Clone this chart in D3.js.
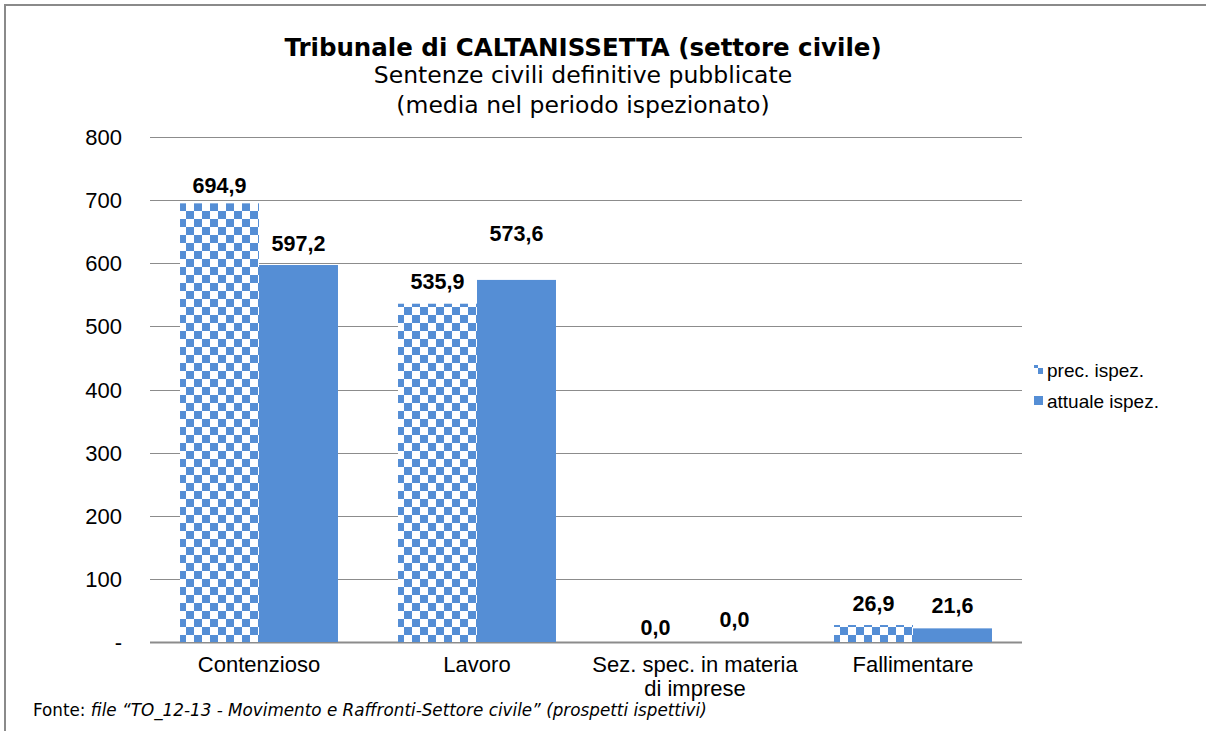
<!DOCTYPE html>
<html>
<head>
<meta charset="UTF-8">
<title>Tribunale di CALTANISSETTA</title>
<script src="https://cdnjs.cloudflare.com/ajax/libs/d3/7.8.5/d3.min.js"></script>
<style>
  body { margin: 0; background: #fff; }
  svg { display: block; }
  .tick-lab { font-family: "Liberation Sans", Arial, sans-serif; font-size: 22px; fill: #000; }
  .val { font-family: "Liberation Sans", Arial, sans-serif; font-size: 21.5px; font-weight: bold; fill: #000; }
  .ttl { font-family: "DejaVu Sans", Verdana, sans-serif; fill: #000; }
</style>
</head>
<body>
<div id="chart"></div>
<script>
// data
var categories = ["Contenzioso", "Lavoro", "Sez. spec. in materia\ndi imprese", "Fallimentare"];
var seriesNames = ["prec. ispez.", "attuale ispez."];
var precValues = [694.9, 535.9, 0.0, 26.9];
var attualeValues = [597.2, 573.6, 0.0, 21.6];
var yTicks = [0, 100, 200, 300, 400, 500, 600, 700, 800];
// label lift above bar top (px), the original has a few hand-moved labels
var labelLift = [[18, 22], [22, 47], [15, 23], [22, 23]];

var W = 1206, H = 731;
var blue = "#558ed5";
var grid = "#8c8c8c";

var svg = d3.select("#chart").append("svg")
    .attr("width", W).attr("height", H);

svg.append("rect").attr("width", W).attr("height", H).attr("fill", "#fff");

// checker pattern for the previous inspection
var pat = svg.append("defs").append("pattern")
    .attr("id", "checker")
    .attr("patternUnits", "userSpaceOnUse")
    .attr("x", 4).attr("y", 3)
    .attr("width", 16).attr("height", 16);
pat.append("rect").attr("width", 16).attr("height", 16).attr("fill", "#fff");
pat.append("rect").attr("x", 0).attr("y", 0).attr("width", 8).attr("height", 8).attr("fill", blue);
pat.append("rect").attr("x", 8).attr("y", 8).attr("width", 8).attr("height", 8).attr("fill", blue);

// outer frame (top + left only)
svg.append("path")
    .attr("d", "M5," + H + "V5H" + W)
    .attr("fill", "none")
    .attr("stroke", "#8a8a8a")
    .attr("stroke-width", 2);

var y = d3.scaleLinear().domain([0, 800]).range([642, 137]);
var x0 = d3.scaleBand().domain(categories).range([150, 1022]).padding(0);
var x1 = d3.scaleBand().domain(seriesNames).range([0, x0.bandwidth()])
    .paddingInner(0).paddingOuter(0.38);

// gridlines
svg.append("g").selectAll("line")
    .data(yTicks)
    .join("line")
    .attr("x1", 150).attr("x2", 1022)
    .attr("y1", function(d) { return Math.round(y(d)) + 0.5; })
    .attr("y2", function(d) { return Math.round(y(d)) + 0.5; })
    .attr("stroke", grid)
    .attr("stroke-width", function(d) { return d === 0 ? 2 : 1.2; });

// y tick labels
svg.append("g").selectAll("text")
    .data(yTicks)
    .join("text")
    .attr("class", "tick-lab")
    .attr("x", 122)
    .attr("y", function(d) { return y(d) + 8; })
    .attr("text-anchor", "end")
    .text(function(d) { return d === 0 ? "-" : d; });

// bars
var rows = categories.map(function(c, i) {
    return { cat: c, i: i, vals: [precValues[i], attualeValues[i]] };
});

var groups = svg.append("g").selectAll("g")
    .data(rows)
    .join("g")
    .attr("transform", function(d) { return "translate(" + x0(d.cat) + ",0)"; });

groups.selectAll("rect")
    .data(function(d) {
        return seriesNames.map(function(s, k) { return { s: s, v: d.vals[k], k: k, i: d.i }; });
    })
    .join("rect")
    .attr("x", function(d) { return x1(d.s); })
    .attr("width", x1.bandwidth())
    .attr("y", function(d) { return y(d.v); })
    .attr("height", function(d) { return y(0) - y(d.v); })
    .attr("fill", function(d) { return d.k === 0 ? "url(#checker)" : blue; });

var fmt = function(v) { return d3.format(".1f")(v).replace(".", ","); };

groups.selectAll("text.val")
    .data(function(d) {
        return seriesNames.map(function(s, k) { return { s: s, v: d.vals[k], k: k, i: d.i }; });
    })
    .join("text")
    .attr("class", "val")
    .attr("x", function(d) { return x1(d.s) + x1.bandwidth() / 2; })
    .attr("y", function(d) { return y(d.v) - labelLift[d.i][d.k] + 7.7; })
    .attr("text-anchor", "middle")
    .text(function(d) { return fmt(d.v); });

// category labels
svg.append("g").selectAll("text")
    .data(categories)
    .join("text")
    .attr("class", "tick-lab")
    .attr("text-anchor", "middle")
    .attr("x", function(d) { return x0(d) + x0.bandwidth() / 2; })
    .attr("y", 672)
    .each(function(d) {
        var t = d3.select(this);
        d.split("\n").forEach(function(line, j) {
            t.append("tspan")
                .attr("x", x0(d) + x0.bandwidth() / 2)
                .attr("dy", j === 0 ? 0 : 24)
                .text(line);
        });
    });

// legend
var legend = svg.append("g").selectAll("g")
    .data(seriesNames)
    .join("g")
    .attr("transform", function(d, i) { return "translate(1034," + (365 + i * 31) + ")"; });
legend.append("rect")
    .attr("width", 9).attr("height", 9)
    .attr("fill", function(d, i) { return i === 0 ? "url(#checker)" : blue; });
legend.append("text")
    .attr("x", 13).attr("y", 11.5)
    .style("font-family", "'Liberation Sans', Arial, sans-serif")
    .style("font-size", "19px")
    .text(function(d) { return d; });

// titles
svg.append("text").attr("class", "ttl")
    .attr("x", 583).attr("y", 56)
    .attr("text-anchor", "middle")
    .style("font-size", "24.5px").style("font-weight", "bold")
    .text("Tribunale di CALTANISSETTA (settore civile)");
svg.append("text").attr("class", "ttl")
    .attr("x", 583).attr("y", 83)
    .attr("text-anchor", "middle")
    .style("font-size", "23.5px")
    .text("Sentenze civili definitive pubblicate");
svg.append("text").attr("class", "ttl")
    .attr("x", 583).attr("y", 113)
    .attr("text-anchor", "middle")
    .style("font-size", "23.5px")
    .text("(media nel periodo ispezionato)");

// source note
var src = svg.append("text").attr("class", "ttl")
    .attr("x", 33).attr("y", 716)
    .style("font-size", "16.8px");
src.append("tspan").text("Fonte: ");
src.append("tspan").style("font-style", "italic")
    .text("file \u201cTO_12-13 - Movimento e Raffronti-Settore civile\u201d (prospetti ispettivi)");
</script>
</body>
</html>
